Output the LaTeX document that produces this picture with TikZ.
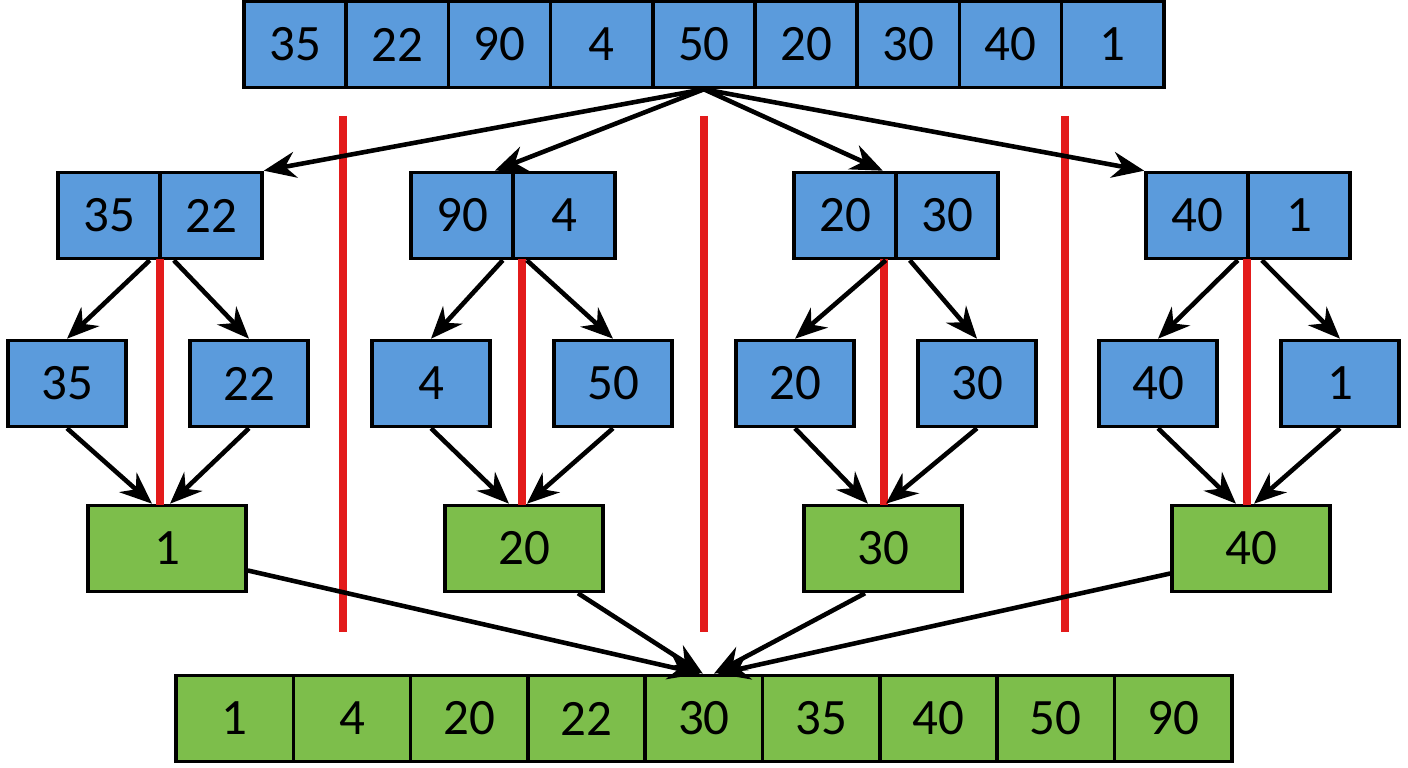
\documentclass[tikz,border=0pt]{standalone}
\usepackage{fontspec}
\setmainfont{Carlito}
\usetikzlibrary{arrows.meta}
\definecolor{cellblue}{HTML}{5B9BDC}
\definecolor{cellgreen}{HTML}{7DBE4B}
\definecolor{splitred}{HTML}{E31B1B}
\tikzset{
  cell/.style={draw=black, line width=1pt, inner sep=0pt, minimum height=0.86cm,
    font=\fontsize{14.5}{17}\selectfont},
  bcell/.style={cell, fill=cellblue},
  gcell/.style={cell, fill=cellgreen},
  arr/.style={-{Stealth[length=3.2mm,width=2.6mm]}, line width=1.3pt},
  split/.style={splitred, line width=2.2pt}
}
\begin{document}
\begin{tikzpicture}[x=0.01cm, y=-0.01cm]
  \useasboundingbox (0,0) rectangle (1408,768);
  % input array
  \foreach \v [count=\i] in {35,22,90,4,50,20,30,40,1}
    \node[bcell, minimum width=1.022cm] (t\i) at ({295.1+(\i-1)*102.2},44.5) {\v};
  % pairs
  \foreach \a/\b/\x [count=\i] in {35/22/109, 90/4/462, 20/30/845, 40/1/1197} {
    \node[bcell, minimum width=1.02cm] (p\i a) at (\x,215.5) {\a};
    \node[bcell, minimum width=1.02cm] (p\i b) at (\x+102,215.5) {\b};
  }
  % singles
  \foreach \v/\x [count=\i] in {35/67, 22/249, 4/431, 50/613, 20/795, 30/977, 40/1158, 1/1340}
    \node[bcell, minimum width=1.18cm] (s\i) at (\x,383.5) {\v};
  % merged minimums
  \foreach \v/\x [count=\i] in {1/167, 20/524, 30/883, 40/1251}
    \node[gcell, minimum width=1.58cm] (g\i) at (\x,548.5) {\v};
  % result
  \foreach \v [count=\i] in {1,4,20,22,30,35,40,50,90}
    \node[gcell, minimum width=1.173cm] (r\i) at ({234.7+(\i-1)*117.3},718.5) {\v};
  % split lines
  \foreach \x in {343,704,1065}
    \draw[split] (\x,116) -- (\x,632);
  \foreach \x in {160,522,884,1247}
    \draw[split] (\x,259) -- (\x,505);
  % arrows
  \draw[arr] (t5.south) -- (p1b.north east);
  \draw[arr] (t5.south) -- ([xshift=-0.2cm]p2a.north east);
  \draw[arr] (t5.south) -- ([xshift=-0.15cm]p3a.north east);
  \draw[arr] (t5.south) -- (p4a.north west);
  \foreach \i/\l/\r in {1/1/2, 2/3/4, 3/5/6, 4/7/8} {
    \draw[arr] ([xshift=-0.12cm]p\i a.south east) -- (s\l.north);
    \draw[arr] ([xshift=0.12cm]p\i a.south east) -- (s\r.north);
    \draw[arr] (s\l.south) -- ([xshift=-0.15cm]g\i.north);
    \draw[arr] (s\r.south) -- ([xshift=0.03cm]g\i.north);
  }
  \draw[arr] ([yshift=-0.22cm]g1.east) -- ([xshift=-0.04cm]r5.north);
  \draw[arr] ([xshift=0.54cm]g2.south) -- ([xshift=-0.01cm]r5.north);
  \draw[arr] ([xshift=-0.18cm]g3.south) -- ([xshift=0.1cm]r5.north);
  \draw[arr] ([yshift=-0.25cm]g4.west) -- ([xshift=0.14cm]r5.north);
\end{tikzpicture}
\end{document}
